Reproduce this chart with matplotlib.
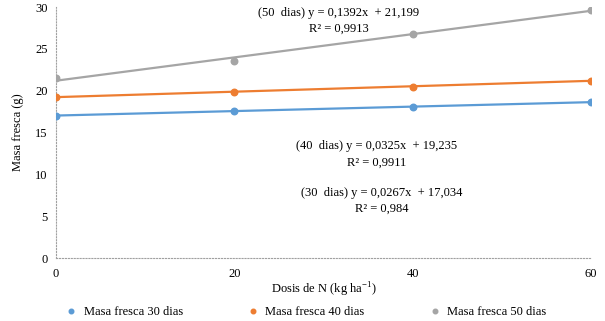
import matplotlib.pyplot as plt
import numpy as np
from matplotlib.font_manager import FontProperties

plt.rcParams['font.family'] = ['Liberation Serif', 'DejaVu Serif']
plt.rcParams['mathtext.fontset'] = 'custom'
plt.rcParams['mathtext.rm'] = 'Liberation Serif'

dosis = [0, 20, 40, 60]
masa_30 = [17.0, 17.6, 18.1, 18.6]
masa_40 = [19.2, 19.9, 20.5, 21.2]
masa_50 = [21.5, 23.5, 26.8, 29.7]

# coeficientes de las lineas de tendencia (del grafico)
trend_30 = (0.0267, 17.034)
trend_40 = (0.0325, 19.235)
trend_50 = (0.1392, 21.199)

series = [
    ("Masa fresca 30 dias", masa_30, trend_30, "#5B9BD5"),
    ("Masa fresca 40 dias", masa_40, trend_40, "#ED7D31"),
    ("Masa fresca 50 dias", masa_50, trend_50, "#A5A5A5"),
]

fig = plt.figure(figsize=(6.05, 3.21), dpi=100)
ax = fig.add_axes([0.0926, 0.196, 0.884, 0.782])

xs = np.array([0, 60])
for name, vals, (m, b), col in series:
    ax.plot(xs, m * xs + b, color=col, lw=1.6, zorder=2)
    ax.scatter(dosis, vals, color=col, s=22, zorder=3, label=name)

ax.set_xlim(0, 60)
ax.set_ylim(0, 30)
ax.set_xticks(dosis)
ax.set_yticks(range(0, 31, 5))
for s in ["top", "right"]:
    ax.spines[s].set_visible(False)
for s in ["left", "bottom"]:
    ax.spines[s].set_color("#A0A0A0")
    ax.spines[s].set_linestyle(":")
    ax.spines[s].set_linewidth(0.8)
ax.tick_params(length=0, labelsize=9, pad=6)
ax.tick_params(axis="x", pad=7)
ax.set_xlabel("Dosis de N (kg ha$^{\\mathrm{-1}}$)", fontsize=9, labelpad=1)
ax.set_ylabel("Masa fresca (g)", fontsize=9, labelpad=8)

txt = dict(fontsize=9, ha="center", va="center")
ax.text(31.7, 29.3, "(50  dias) y = 0,1392x  + 21,199", **txt)
ax.text(31.7, 27.4, "R² = 0,9913", **txt)
ax.text(36.0, 13.4, "(40  dias) y = 0,0325x  + 19,235", **txt)
ax.text(36.0, 11.4, "R² = 0,9911", **txt)
ax.text(36.5, 7.8, "(30  dias) y = 0,0267x  + 17,034", **txt)
ax.text(36.5, 5.9, "R² = 0,984", **txt)

fig.legend(loc="lower center", bbox_to_anchor=(0.5, -0.025), ncol=3,
           frameon=False, prop=FontProperties(family="Liberation Serif", size=9),
           handletextpad=0.0, columnspacing=4.6, markerscale=0.7)

fig.savefig("out.png", dpi=100)
